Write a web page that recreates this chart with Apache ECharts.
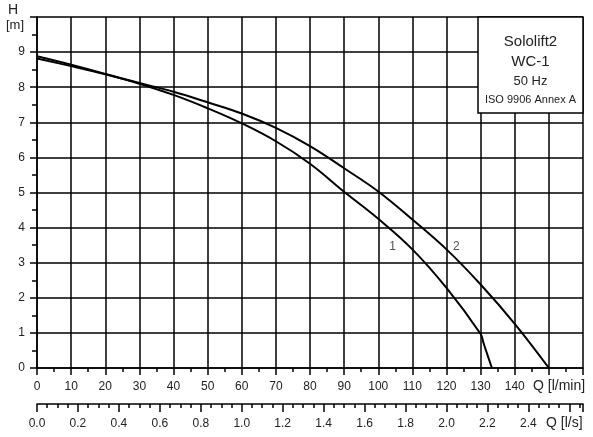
<!DOCTYPE html>
<html>
<head>
<meta charset="utf-8">
<script src="https://cdn.jsdelivr.net/npm/echarts@6/dist/echarts.min.js"></script>
<style>
html,body{margin:0;padding:0;background:#fff;}
#chart{width:593px;height:437px;}
</style>
</head>
<body>
<div id="chart"></div>
<script>
// Q [l/min] / H [m]
var q1 = [0, 10, 20, 30, 40, 50, 60, 70, 80, 90, 100, 110, 120, 130, 130.8, 131.6, 133.3];
var h1 = [8.88, 8.64, 8.38, 8.1, 7.78, 7.4, 6.97, 6.46, 5.82, 5.02, 4.25, 3.38, 2.28, 0.97, 0.73, 0.49, 0];
var q2 = [0, 10, 20, 30, 40, 50, 60, 70, 80, 90, 100, 110, 120, 130, 140, 150];
var h2 = [8.82, 8.6, 8.37, 8.12, 7.87, 7.57, 7.25, 6.84, 6.32, 5.69, 5.03, 4.23, 3.38, 2.38, 1.26, 0];
var curveNames = ['1', '2'];
var curveLabelPos = [[104.2, 3.47], [122.9, 3.47]];
var boxLines = ['Sololift2', 'WC-1', '50 Hz', 'ISO 9906 Annex A'];

function pairs(xs, ys){
    var out = [];
    for (var i = 0; i < xs.length; i++) out.push([xs[i], ys[i]]);
    return out;
}

var chart = echarts.init(document.getElementById('chart'));
var fontF = 'Liberation Sans, Arial, sans-serif';
var blk = '#000';

var option = {
    animation: false,
    textStyle: {fontFamily: fontF},
    grid: {left: 37, top: 17, right: 10, bottom: 69},
    xAxis: [
        {
            type: 'value', min: 0, max: 160, interval: 10, position: 'bottom',
            axisLine: {show: true, onZero: false, lineStyle: {color: blk, width: 1.5}},
            axisTick: {show: true, length: 7, lineStyle: {color: blk, width: 1.5}},
            minorTick: {show: true, splitNumber: 2, length: 4, lineStyle: {color: blk, width: 1.5}},
            splitLine: {show: true, lineStyle: {color: blk, width: 1.5}},
            axisLabel: {
                color: '#222', fontSize: 12, margin: 13,
                formatter: function(v){ return v > 140 ? '' : String(v); }
            }
        },
        {
            type: 'value', min: 0, max: 160 / 60, interval: 0.2, position: 'bottom', offset: 36,
            axisLine: {show: true, onZero: false, lineStyle: {color: blk, width: 1.5}},
            axisTick: {show: true, length: 8, lineStyle: {color: blk, width: 1.5}},
            minorTick: {show: true, splitNumber: 4, length: 4, lineStyle: {color: blk, width: 1.5}},
            splitLine: {show: false},
            axisLabel: {
                color: '#222', fontSize: 12, margin: 14, showMaxLabel: false,
                formatter: function(v){ return v > 2.45 ? '' : v.toFixed(1); }
            }
        }
    ],
    yAxis: {
        type: 'value', min: 0, max: 10, interval: 1,
        axisLine: {show: true, lineStyle: {color: blk, width: 1.5}},
        axisTick: {show: true, length: 7, lineStyle: {color: blk, width: 1.5}},
        minorTick: {show: true, splitNumber: 2, length: 5, lineStyle: {color: blk, width: 1.5}},
        splitLine: {show: true, lineStyle: {color: blk, width: 1.5}},
        axisLabel: {
            color: '#222', fontSize: 12, margin: 12,
            formatter: function(v){ return v > 9 ? '' : String(v); }
        }
    },
    graphic: [
        {type: 'text', left: 8, top: 3, style: {text: 'H', font: '14px ' + fontF, fill: '#222'}},
        {type: 'text', left: 6, top: 19, style: {text: '[m]', font: '13px ' + fontF, fill: '#222'}},
        {type: 'text', left: 533, top: 379, style: {text: 'Q [l/min]', font: '14px ' + fontF, fill: '#222'}},
        {type: 'text', left: 546, top: 416, style: {text: 'Q [l/s]', font: '14px ' + fontF, fill: '#222'}},
        {type: 'rect', shape: {x: 478, y: 17, width: 105, height: 96},
            style: {fill: '#fff', stroke: blk, lineWidth: 1.5}, z: 10},
        {type: 'text', x: 530.5, y: 42, z: 11, style: {text: boxLines[0], font: '15px ' + fontF, fill: '#222', align: 'center', verticalAlign: 'middle'}},
        {type: 'text', x: 530.5, y: 62, z: 11, style: {text: boxLines[1], font: '15px ' + fontF, fill: '#222', align: 'center', verticalAlign: 'middle'}},
        {type: 'text', x: 530.5, y: 81, z: 11, style: {text: boxLines[2], font: '13px ' + fontF, fill: '#222', align: 'center', verticalAlign: 'middle'}},
        {type: 'text', x: 530.5, y: 100, z: 11, style: {text: boxLines[3], font: '11px ' + fontF, fill: '#222', align: 'center', verticalAlign: 'middle'}}
    ],
    series: [
        {
            type: 'line', xAxisIndex: 0, data: pairs(q1, h1), showSymbol: false,
            smooth: 0.4,
            lineStyle: {color: blk, width: 2}, z: 5
        },
        {
            type: 'line', xAxisIndex: 0, data: pairs(q2, h2), showSymbol: false,
            smooth: 0.4,
            lineStyle: {color: blk, width: 2}, z: 5
        },
        {
            type: 'scatter', xAxisIndex: 0, symbolSize: 0,
            data: curveLabelPos.map(function(p, i){ return {value: p, name: curveNames[i]}; }),
            label: {show: true, position: 'inside', formatter: '{b}', color: '#222', fontSize: 12}
        }
    ]
};
chart.setOption(option);
</script>
</body>
</html>
